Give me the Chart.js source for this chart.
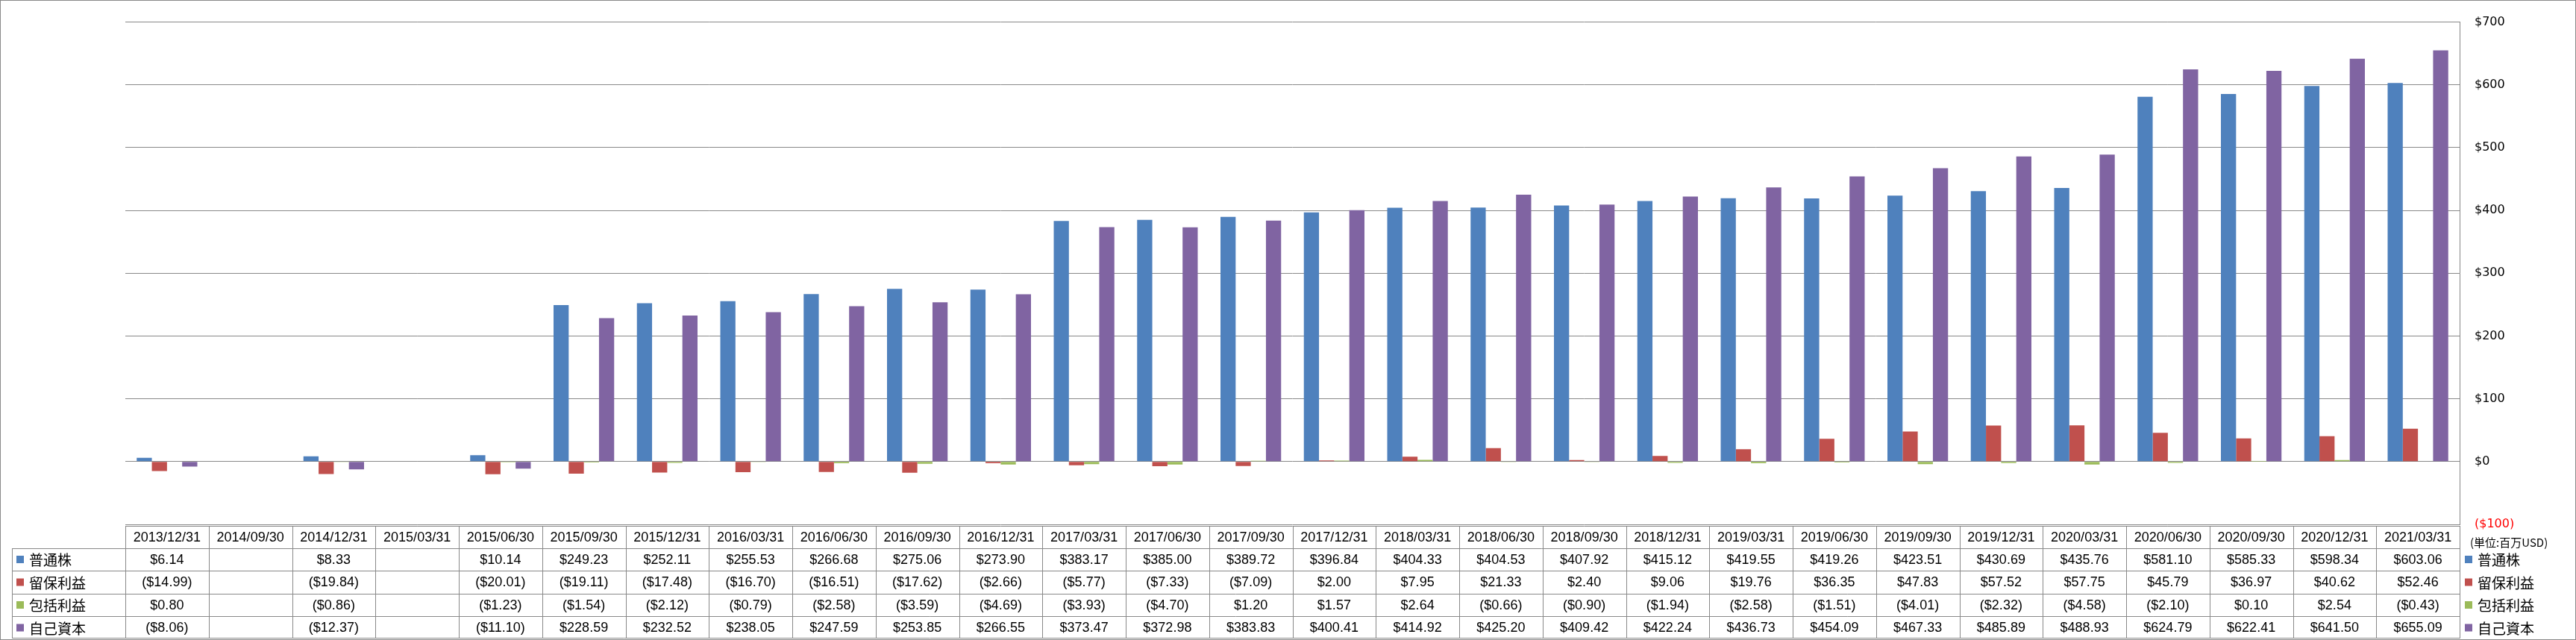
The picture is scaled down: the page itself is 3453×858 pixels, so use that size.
<!DOCTYPE html>
<html>
<head>
<meta charset="utf-8">
<script src="https://cdn.jsdelivr.net/npm/chart.js@4"></script>
<style>
  body { margin: 0; background: #fff; }
  #wrap { width: 3453px; height: 858px; position: relative; }
</style>
</head>
<body>
<div id="wrap"><canvas id="chartOne"></canvas></div>
<script>
const labels = ['2013/12/31', '2014/09/30', '2014/12/31', '2015/03/31', '2015/06/30', '2015/09/30', '2015/12/31',
    '2016/03/31', '2016/06/30', '2016/09/30', '2016/12/31', '2017/03/31', '2017/06/30', '2017/09/30', '2017/12/31',
    '2018/03/31', '2018/06/30', '2018/09/30', '2018/12/31', '2019/03/31', '2019/06/30', '2019/09/30', '2019/12/31',
    '2020/03/31', '2020/06/30', '2020/09/30', '2020/12/31', '2021/03/31'];

const commonStock = [6.14, null, 8.33, null, 10.14, 249.23, 252.11, 255.53, 266.68, 275.06, 273.90, 383.17, 385.00, 389.72,
    396.84, 404.33, 404.53, 407.92, 415.12, 419.55, 419.26, 423.51, 430.69, 435.76, 581.10, 585.33, 598.34, 603.06];
const retained = [-14.99, null, -19.84, null, -20.01, -19.11, -17.48, -16.70, -16.51, -17.62, -2.66, -5.77, -7.33, -7.09,
    2.00, 7.95, 21.33, 2.40, 9.06, 19.76, 36.35, 47.83, 57.52, 57.75, 45.79, 36.97, 40.62, 52.46];
const comprehensive = [0.80, null, -0.86, null, -1.23, -1.54, -2.12, -0.79, -2.58, -3.59, -4.69, -3.93, -4.70, 1.20,
    1.57, 2.64, -0.66, -0.90, -1.94, -2.58, -1.51, -4.01, -2.32, -4.58, -2.10, 0.10, 2.54, -0.43];
const equity = [-8.06, null, -12.37, null, -11.10, 228.59, 232.52, 238.05, 247.59, 253.85, 266.55, 373.47, 372.98, 383.83,
    400.41, 414.92, 425.20, 409.42, 422.24, 436.73, 454.09, 467.33, 485.89, 488.93, 624.79, 622.41, 641.50, 655.09];

const seriesNames = ['普通株', '留保利益', '包括利益', '自己資本'];
const colors = ['#4F81BD', '#C0504D', '#9BBB59', '#8064A2'];
const unitLabel = '(単位:百万USD)';

const lineColor = '#898989';

function money(v) {
    if (v === null || v === undefined) return '';
    const s = '$' + Math.abs(v).toFixed(2);
    return v < 0 ? '(' + s + ')' : s;
}

const rowLines = [705, 735, 765, 796, 826, 857];

const tablePlugin = {
    id: 'dataTable',
    afterDraw(chart) {
        const ctx = chart.ctx;
        const x = chart.scales.x;
        const n = labels.length;
        const w = x.width / n;
        const left = x.left;
        const right = x.right;
        ctx.save();
        ctx.strokeStyle = lineColor;
        ctx.lineWidth = 1;

        // outer border
        ctx.strokeRect(0.5, 0.5, 3452, 857);

        // horizontal lines
        ctx.beginPath();
        ctx.moveTo(left, rowLines[0] + 0.5);
        ctx.lineTo(right, rowLines[0] + 0.5);
        for (let r = 1; r < rowLines.length - 1; r++) {
            ctx.moveTo(16, rowLines[r] + 0.5);
            ctx.lineTo(right, rowLines[r] + 0.5);
        }
        ctx.moveTo(16, rowLines[5] - 1.5);
        ctx.lineTo(right, rowLines[5] - 1.5);
        // vertical lines
        ctx.moveTo(16.5, rowLines[1]);
        ctx.lineTo(16.5, rowLines[5] - 1);
        for (let i = 0; i <= n; i++) {
            const px = Math.round(left + i * w) + 0.5;
            ctx.moveTo(px, rowLines[0]);
            ctx.lineTo(px, rowLines[5] - 1);
        }
        ctx.stroke();

        ctx.textAlign = 'center';
        ctx.textBaseline = 'middle';
        ctx.fillStyle = '#000';
        ctx.font = '18px "Liberation Sans", sans-serif';
        const rows = [commonStock, retained, comprehensive, equity];
        for (let i = 0; i < n; i++) {
            const cx = left + (i + 0.5) * w;
            ctx.fillText(labels[i], cx, (rowLines[0] + rowLines[1]) / 2 + 1);
            rows.forEach((arr, r) => {
                ctx.fillText(money(arr[i]), cx, (rowLines[r + 1] + rowLines[r + 2]) / 2 + 1);
            });
        }

        // legend keys, left and right of the table
        ctx.textAlign = 'left';
        ctx.font = '19px "Noto Sans CJK JP", sans-serif';
        seriesNames.forEach((name, r) => {
            const cy = (rowLines[r + 1] + rowLines[r + 2]) / 2;
            ctx.fillStyle = colors[r];
            ctx.fillRect(22, cy - 5, 10, 10);
            ctx.fillRect(right + 7, cy - 5, 10, 10);
            ctx.fillStyle = '#000';
            ctx.fillText(name, 39, cy + 1);
            ctx.fillText(name, right + 24, cy + 1);
        });

        ctx.font = '15px "Noto Sans CJK JP", sans-serif';
        ctx.fillText(unitLabel, right + 14, 727);
        ctx.restore();
    }
};

new Chart(document.getElementById('chartOne').getContext('2d'), {
    type: 'bar',
    data: {
        labels: labels,
        datasets: [commonStock, retained, comprehensive, equity].map((d, i) => ({
            label: seriesNames[i],
            data: d,
            backgroundColor: colors[i],
            categoryPercentage: 0.727,
            barPercentage: 1.0,
        })),
    },
    options: {
        responsive: true,
        maintainAspectRatio: false,
        animation: false,
        layout: { padding: { left: 168, top: 13, bottom: 155, right: 0 } },
        plugins: {
            legend: { display: false },
            tooltip: { enabled: false },
        },
        scales: {
            x: { display: false },
            y: {
                position: 'right',
                min: -100,
                max: 700,
                afterFit(scale) { scale.width = 156; },
                grid: { color: lineColor, drawTicks: false },
                border: { display: true, color: lineColor },
                ticks: {
                    stepSize: 100,
                    padding: 20,
                    color: (c) => (c.tick.value < 0 ? '#FF0000' : '#000000'),
                    font: { family: '"DejaVu Sans", sans-serif', size: 16 },
                    callback: (v) => money(v).replace('.00', ''),
                },
            },
        },
    },
    plugins: [tablePlugin],
});
</script>
</body>
</html>
